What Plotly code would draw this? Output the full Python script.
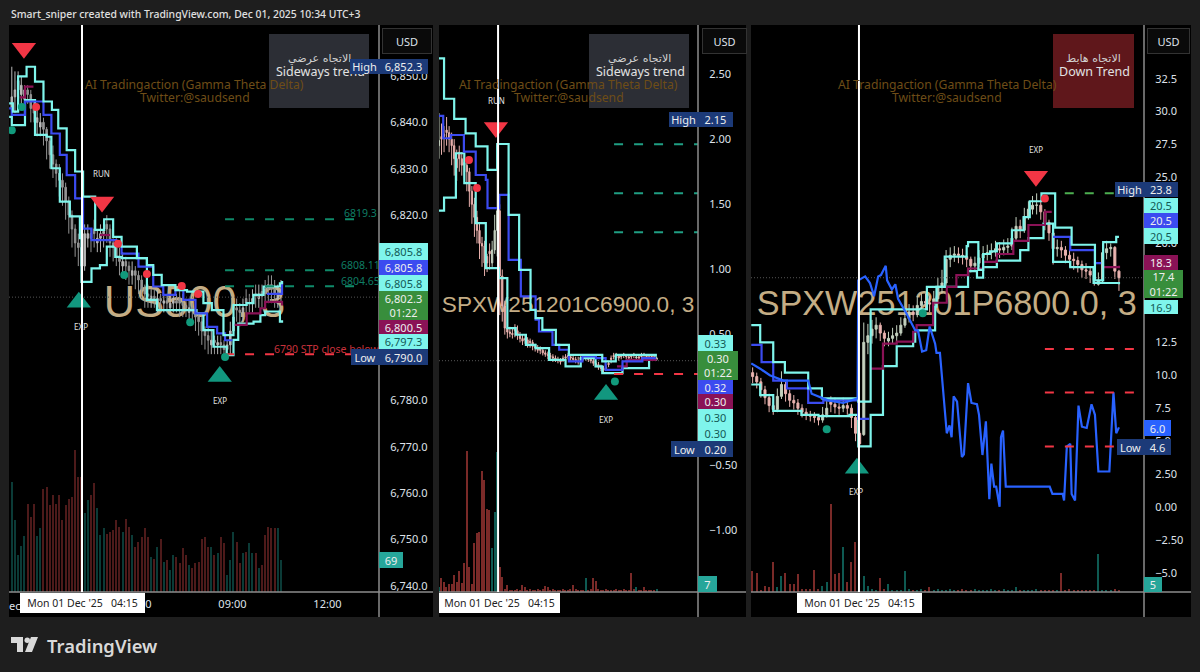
import plotly.graph_objects as go

W, H = 1200, 672
def X(p): return p / W
def Y(p): return 1 - p / H

# ---------- pane 1: US500 ----------
close1 = [6845.5,6847,6849,6848,6847,6846,6843,6842,6841,6840,6838.5,6836,6833,6831,6829,6827.5,6826,6823,6820,6817,6814,6813,6809,6816,6816,6815,6816,6815,6816,6816.5,6817,6814,6813,6811,6810,6810,6809,6808,6808,6807,6806,6804,6803,6802.5,6802.5,6802,6802,6801.5,6801.5,6801,6801,6801.5,6801,6801,6800.5,6800,6800,6799.5,6798,6797,6795,6794,6793,6793,6792.5,6792.5,6792,6791,6792,6795,6798,6799.5,6799,6800,6801,6801,6802,6802.5,6803,6802.5,6803,6804,6804,6803,6803,6804]
open1 = [6843,6845.5,6847,6846,6845,6847,6846,6843,6840,6839,6840,6838.5,6836,6833,6831,6829,6827.5,6826,6823,6820,6817,6814,6813,6809,6815,6816,6817,6814,6815,6816,6818,6817,6814,6813,6811,6809,6810,6809,6807,6808,6807,6806,6804,6803,6801.5,6802.5,6801,6802,6801,6801.5,6800,6801,6801.5,6802,6801,6800.5,6799,6800,6799.5,6798,6797,6795,6794,6792,6793,6792,6792.5,6792,6791,6792,6795,6800,6799.5,6799,6802,6801,6801,6803,6802,6803.5,6804,6805,6805,6804,6802,6803]
high1 = [6852,6851,6851,6850,6848,6848,6847,6845,6843,6842,6841,6839,6837,6835,6832,6831,6829,6827,6824,6821,6818,6816,6814,6818,6818,6817,6819,6817,6818,6819,6820,6818,6815,6815,6813,6812,6811,6810,6810,6809,6808,6807,6805,6805,6804,6804,6804,6803,6803,6803,6803,6803,6803,6804,6803,6802,6802,6801,6801,6799,6798,6796,6796,6795,6794,6794,6794,6793,6793,6797,6801,6802,6801,6802,6804,6803,6804,6805,6805,6805,6806,6807,6807,6806,6805,6806]
low1 = [6840,6842,6844,6844,6843,6844,6840,6840,6837,6837,6835,6832,6830,6828,6826,6824,6822,6819,6816,6813,6811,6809,6806,6808,6813,6812,6813,6812,6812,6813,6814,6811,6810,6809,6807,6807,6806,6805,6805,6804,6803,6802,6800,6800,6800,6800,6799,6799,6799,6799,6799,6799,6799,6798,6798,6798,6797,6797,6795,6794,6792,6791,6790,6790,6790,6790,6790,6790,6790,6790,6795,6797,6796,6797,6798,6799,6799,6800,6800,6800,6800,6801,6801,6800,6800,6801]
vol1 = [238,155,80,100,120,190,162,190,120,137,223,227,187,209,190,209,155,187,200,205,306,248,248,170,198,209,234,180,123,137,126,130,133,155,140,130,158,140,123,98,108,119,137,119,76,72,98,115,65,69,47,80,76,62,94,80,58,51,62,65,115,119,98,98,80,83,119,105,37,69,130,108,62,83,87,105,83,83,51,58,123,140,137,137,137,69]
up1_t = [117,124,134,150,166,182,198,210,226,242,257,280,297,314,330,359,378,390,406,432,454,485,501,523,542,567,580,599,630,634]
up1_p = [6844.1,6842.3,6849.9,6852.0,6848.8,6844.5,6842.7,6838.7,6834.0,6829.4,6824.0,6816.8,6819.1,6815.3,6813.2,6810.7,6809.2,6807.1,6804.9,6803.8,6803.5,6801.0,6799.5,6794.1,6800.6,6801.0,6802.8,6804.6,6805.3,6805.8]
lo1_t = [117,122,147,166,188,197,213,232,251,254,273,289,302,318,330,378,397,472,485,504,529,542,551,580,593,602,630,634]
lo1_p = [6841.2,6839.4,6844.8,6837.3,6836.9,6830.1,6822.9,6819.7,6815.0,6805.6,6808.5,6809.2,6813.2,6811.0,6810.7,6801.7,6799.5,6798.8,6795.2,6791.6,6789.8,6793.1,6796.6,6797.0,6798.4,6799.2,6797.0,6797.3]
mid1_t = [117,122,147,182,197,213,226,242,257,273,320,330,362,390,409,432,447,470,492,511,526,540,541,605,634]
mid1_p = [6843.0,6841.6,6844.5,6841.6,6837.6,6833.0,6828.6,6823.6,6817.1,6814.6,6813.5,6811.7,6808.9,6804.6,6802.8,6803.8,6801.7,6798.8,6795.9,6794.5,6793.0,6793.0,None,6803.0,6805.8]
mar1_t = [137,147,163,164,289,308,309,542,567,593,602,634]
mar1_p = [6845.4,6847.7,6847.7,None,6815.7,6815.7,None,6796.3,6798.8,6799.9,6801.3,6800.5]
sell1_t, sell1_p = [145,293], [6856.0,6822.8]
buy1_t, buy1_p = [249,516], [6801.2,6785.2]
gdot1_t, gdot1_p = [122,141,335,460,526], [6838.3,6843.3,6807.1,6796.9,6789.4]
rdot1_t, rdot1_p = [168,323,378,444,475], [6843.3,6813.8,6807.3,6804.7,6803.0]
lvl1_g = [6819.1,6808.1,6804.65]
lvl1_end = [772,734,772]
lvl1_r = 6790.0
last1 = 6802.3

# ---------- pane 2: call ----------
close2 = [1.99,2.00,2.02,2.05,2.00,1.95,1.85,1.78,1.85,1.80,1.80,1.75,1.60,1.50,1.40,1.30,1.20,1.18,1.05,1.05,1.12,1.15,1.30,1.45,0.95,0.72,0.55,0.52,0.51,0.50,0.53,0.50,0.47,0.45,0.46,0.43,0.44,0.41,0.40,0.38,0.38,0.36,0.35,0.34,0.33,0.32,0.31,0.30,0.29,0.31,0.32,0.33,0.32,0.31,0.30,0.29,0.31,0.32,0.33,0.31,0.30,0.28,0.27,0.25,0.24,0.23,0.24,0.27,0.31,0.33,0.34,0.32,0.33,0.34,0.33,0.32,0.33,0.34,0.33,0.32,0.33,0.34,0.33,0.32,0.33,0.32,0.32]
open2 = [1.95,2.02,2.04,2.07,2.05,2.00,1.95,1.85,1.90,1.85,1.82,1.80,1.75,1.60,1.50,1.40,1.30,1.20,1.18,1.10,1.14,1.05,1.15,1.30,1.45,0.95,0.72,0.55,0.52,0.51,0.55,0.53,0.50,0.47,0.47,0.46,0.45,0.44,0.41,0.40,0.39,0.38,0.36,0.35,0.34,0.33,0.32,0.31,0.30,0.32,0.33,0.34,0.33,0.32,0.31,0.30,0.32,0.33,0.32,0.33,0.31,0.30,0.28,0.27,0.25,0.24,0.25,0.28,0.32,0.34,0.35,0.34,0.34,0.35,0.34,0.33,0.34,0.35,0.32,0.33,0.34,0.35,0.34,0.33,0.34,0.33,0.31]
high2 = [2.20,2.12,2.10,2.17,2.10,2.05,2.00,1.92,1.95,1.90,1.88,1.85,1.78,1.64,1.55,1.45,1.35,1.25,1.22,1.12,1.20,1.22,1.42,1.96,1.50,1.00,0.76,0.60,0.56,0.55,0.58,0.57,0.52,0.50,0.50,0.48,0.47,0.46,0.43,0.42,0.41,0.40,0.38,0.37,0.36,0.35,0.34,0.33,0.32,0.34,0.35,0.36,0.35,0.34,0.33,0.33,0.34,0.35,0.35,0.34,0.33,0.32,0.30,0.29,0.27,0.26,0.27,0.30,0.34,0.36,0.36,0.35,0.35,0.36,0.35,0.35,0.35,0.36,0.35,0.35,0.36,0.36,0.35,0.35,0.35,0.34,0.33]
low2 = [1.85,1.88,1.90,1.95,1.90,1.80,1.72,1.68,1.75,1.72,1.70,1.60,1.48,1.35,1.25,1.20,1.08,1.02,0.95,0.98,1.00,1.02,1.12,1.10,0.65,0.60,0.50,0.47,0.48,0.47,0.48,0.46,0.44,0.42,0.43,0.40,0.40,0.38,0.37,0.36,0.35,0.34,0.33,0.31,0.30,0.29,0.29,0.28,0.27,0.29,0.30,0.31,0.30,0.29,0.28,0.27,0.29,0.30,0.30,0.29,0.28,0.26,0.25,0.23,0.22,0.21,0.22,0.25,0.28,0.31,0.32,0.30,0.31,0.32,0.31,0.30,0.31,0.32,0.31,0.30,0.31,0.32,0.31,0.30,0.31,0.30,0.30]
vol2 = [4,12,9,4,7,7,15,9,18,8,25,124,22,7,43,52,53,106,98,73,72,39,70,123,22,13,3,6,2,2,2,3,2,6,4,2,3,2,2,3,2,3,5,4,2,3,2,2,2,3,2,2,3,6,3,2,2,2,12,2,3,12,10,3,2,2,3,2,2,2,3,2,2,3,2,2,17,3,4,2,2,4,2,2,2,2,3]
up2_t = [114,127,151,178,202,230,253,280,305,332,344,360,392,423,486,502,534,629]
up2_p = [2.62,2.31,2.155,2.045,1.945,1.764,1.963,1.419,0.997,0.69,0.626,0.537,0.422,0.345,0.345,0.294,0.345,0.33]
lo2_t = [114,127,155,175,202,226,257,277,297,321,344,376,415,451,486,502,550,613,629]
lo2_p = [1.452,1.552,1.892,1.662,1.355,1.01,0.933,0.55,0.499,0.422,0.396,0.307,0.256,0.32,0.256,0.205,0.243,0.307,0.30]
mid2_t = [114,125,143,174,202,226,230,258,280,309,344,352,384,400,423,455,487,510,550,597,629]
mid2_p = [2.178,2.007,2.032,1.904,1.725,1.687,1.47,1.572,1.074,0.793,0.614,0.524,0.422,0.384,0.294,0.333,0.32,0.23,0.294,0.32,0.32]
mar2_t = [537,560,597,629]
mar2_p = [0.256,0.307,0.307,0.30]
sell2_t, sell2_p = [250], [2.09]
buy2_t, buy2_p = [511], [0.04]
gdot2_t, gdot2_p = [532], [0.14]
rdot2_t, rdot2_p = [186,205], [1.84,1.626]
lvl2_g = [1.96,1.585,1.286]
lvl2_r = 0.197
last2 = 0.30

# ---------- pane 3: put ----------
close3 = [9.9,9.5,8.9,8.3,7.7,7.4,8.4,9.3,8.6,8.1,7.9,7.5,7.2,7.0,6.9,6.8,6.6,7.0,7.5,7.8,7.6,7.5,7.7,7.5,6.8,5.6,4.8,12.5,13.0,13.5,13.8,13.2,12.8,12.8,13.0,13.2,13.8,14.3,14.8,14.6,15.3,15.6,15.5,15.4,15.8,16.7,17.0,18.8,19.1,19.2,19.1,19.0,18.8,18.3,18.5,18.9,19.2,19.3,19.4,19.6,19.5,19.7,19.8,20.4,21.3,21.0,22.0,22.6,22.9,22.9,22.4,21.6,20.8,19.6,19.7,19.5,19.1,18.8,18.7,18.4,18.0,17.9,17.6,17.2,17.2,19.3,19.6,19.7,17.9,17.4]
open3 = [10.2,9.9,9.5,8.9,8.3,7.7,7.4,8.4,9.3,8.6,8.1,7.9,7.5,7.2,7.0,6.9,6.8,6.6,7.0,8.0,7.8,7.6,7.5,7.7,7.5,6.8,5.6,5.5,12.5,13.0,13.5,13.8,13.2,12.6,12.8,13.0,13.2,13.8,14.3,14.8,14.6,15.3,15.6,15.5,15.4,15.8,16.7,17.0,18.8,19.1,19.2,19.1,19.0,18.8,18.3,18.5,18.9,19.2,19.3,19.4,19.6,19.5,19.7,19.8,20.4,21.3,21.0,22.0,22.6,22.9,22.9,22.4,21.6,20.8,19.6,19.7,19.5,19.1,18.8,18.7,18.4,18.0,17.9,17.6,16.9,17.2,19.3,19.6,19.7,17.9]
high3 = [10.6,10.2,9.8,9.2,8.6,8.0,9.0,10.3,9.5,8.9,8.5,8.2,7.8,7.5,7.3,7.2,7.0,7.6,8.1,8.4,8.3,8.1,8.3,8.1,7.8,7.0,5.8,14.0,13.9,14.2,14.4,14.0,13.4,13.3,13.6,13.8,14.4,14.9,15.4,15.3,16.0,16.2,16.2,16.0,16.4,17.4,18.0,19.5,19.7,19.8,19.7,19.6,19.4,19.0,19.0,19.5,19.8,19.9,20.0,20.2,20.1,20.3,20.4,21.2,22.0,21.8,22.7,23.2,23.6,23.8,23.2,22.6,21.8,20.4,20.3,20.2,19.8,19.5,19.3,19.0,18.7,18.5,18.2,17.8,17.8,20.0,20.2,20.0,19.8,18.0]
low3 = [9.4,9.0,8.3,7.8,7.2,7.0,7.2,8.2,8.0,7.6,7.4,7.0,6.8,6.6,6.5,6.4,6.2,6.4,6.8,7.2,7.1,7.0,7.2,7.0,6.0,5.0,4.6,5.4,11.6,12.4,12.8,12.6,12.2,12.2,12.4,12.6,13.0,13.6,14.0,14.1,14.4,14.9,14.9,14.8,15.2,15.4,16.2,16.8,18.2,18.6,18.5,18.4,18.2,17.8,17.9,18.2,18.6,18.7,18.8,19.0,18.9,19.1,19.2,19.5,20.2,20.4,20.8,21.8,22.2,22.2,21.8,21.0,20.2,18.4,19.0,18.9,18.5,18.2,18.0,17.8,17.4,17.3,17.0,16.8,16.8,17.0,18.8,19.0,17.3,16.4]
vol3 = [13,12,1,4,3,19,3,10,12,5,5,11,2,2,2,14,2,4,6,55,11,12,28,6,19,31,89,10,4,2,1,9,2,5,1,1,1,13,2,1,1,2,1,3,1,2,1,1,2,1,1,2,1,1,2,1,1,1,2,1,1,2,1,1,3,1,1,1,1,2,1,1,1,1,1,12,1,2,1,1,1,1,1,1,24,1,1,1,2,1]
up3_t = [98,111,130,147,181,201,254,272,354,380,412,414,429,436,446,456,478,495,504,521,541,565,599,611,630,634]
up3_p = [13.8,12.5,11.0,10.2,9.0,8.25,8.0,15.0,16.7,19.0,19.8,20.1,18.0,19.2,19.4,20.0,21.0,22.0,23.2,23.8,21.2,19.9,17.2,20.1,20.5,20.5]
lo3_t = [98,111,130,171,196,241,254,272,290,310,334,337,366,368,414,427,436,456,490,502,524,538,563,597,634]
lo3_p = [9.3,8.5,7.3,7.0,6.9,7.0,4.6,7.0,10.7,12.2,12.55,13.4,15.2,16.7,17.9,17.4,18.2,18.7,19.5,20.4,21.5,18.6,18.2,17.0,16.9]
mid3_t = [98,113,130,150,181,203,254,270,271,538,563,599,608]
mid3_p = [12.3,11.0,9.6,9.0,7.9,8.1,6.7,6.7,None,20.5,19.5,18.5,18.5]
mar3_t = [271,290,310,334,339,363,383,397,414,436,456,480,502,526,536,537,611,634]
mar3_p = [10.5,12.4,12.55,13.3,13.8,15.5,16.7,17.6,18.1,18.6,19.2,20.2,21.4,22.4,22.4,None,18.2,18.3]
osc3_t = [98,111,125,145,181,186,210,232,253,254,264,271,277,283,287,294,296,303,308,312,324,329,337,341,347,353,358,366,368,373,378,383,387,390,393,398,405,408,414,419,427,430,435,440,445,448,452,455,460,462,465,469,533,537,552,554,558,563,565,570,575,580,587,594,599,604,620,626,630,634]
osc3_p = [10.9,10.5,10.0,9.6,9.6,8.6,8.1,7.9,8.25,17.2,17.5,17.0,16.0,17.5,17.6,18.3,17.2,16.5,16.9,15.8,14.7,14.2,13.4,13.4,11.8,11.9,13.7,12.4,11.7,11.7,8.4,5.6,6.2,5.3,8.4,8.0,3.8,4.0,9.4,7.9,7.8,7.0,3.95,6.5,0.6,3.3,1.55,1.55,0.03,5.3,5.8,1.55,1.55,1.0,1.0,0.5,4.6,4.8,1.0,0.5,7.7,6.1,6.0,7.8,7.0,2.7,2.7,8.7,5.6,6.05]
sell3_t, sell3_p = [513], [25.1]
buy3_t, buy3_p = [252], [2.95]
gdot3_t, gdot3_p = [208,348], [5.9,14.7]
rdot3_t, rdot3_p = [526], [23.4]
lvl3_g = 23.8
lvl3_r = [12.0,8.7,4.6]
last3 = 17.4

CROSS_T = 255
CYAN, BLUE, MAROON, OSC = "#7ff5ec", "#3b4bf0", "#8a1256", "#2962ff"
RED, TEAL, GDOT = "#f23645", "#12977f", "#119a7c"
TXT = "#dfe2ea"
FONT = "Noto Sans"

fig = go.Figure()
panes = [
    dict(x=(9, 379), right=433, tr=(116.7, 817.7), yr=(6738.7, 6861), vr=(0, 1222), axis=("x", "y", "y2")),
    dict(x=(439, 698), right=746, tr=(115, 729), yr=(-1.475, 2.876), vr=(0, 497), axis=("x2", "y3", "y4")),
    dict(x=(751, 1144), right=1191, tr=(97.6, 670.5), yr=(-6.44, 36.57), vr=(0, 354), axis=("x3", "y5", "y6")),
]

def add_pane(i, o, h, l, c, t0, vol, band_sets, sell, buy, gd, rd, levels, last, sym, sym_xy, sym_size, up_col, dn_col, vup, vdn, vwidth):
    xa, yv, yp = panes[i]["axis"]
    n = min(len(o), len(h), len(l), len(c), len(vol))
    times = [t0 + 6 * k for k in range(n)]
    vcol = [vup if c[k] >= o[k] else vdn for k in range(n)]
    fig.add_trace(go.Bar(x=times, y=vol[:n], width=vwidth, marker=dict(color=vcol, line_width=0), xaxis=xa, yaxis=yv, hoverinfo="skip", showlegend=False))
    fig.add_trace(go.Scatter(x=[sym_xy[0]], y=[sym_xy[1]], mode="text", text=[sym], textposition="middle center",
                             textfont=dict(family="Liberation Sans", size=sym_size, color="#c4ad85"), xaxis=xa, yaxis=yv, hoverinfo="skip", showlegend=False, cliponaxis=False))
    tr = panes[i]["tr"]
    fig.add_trace(go.Scatter(x=list(tr), y=[last, last], mode="lines", line=dict(color="#555555", width=1, dash="1px,2px"), xaxis=xa, yaxis=yp, hoverinfo="skip", showlegend=False))
    fig.add_trace(go.Candlestick(x=times, open=o[:n], high=h[:n], low=l[:n], close=c[:n], whiskerwidth=0,
                                 increasing=dict(line=dict(color=up_col, width=1), fillcolor=up_col),
                                 decreasing=dict(line=dict(color=dn_col, width=1), fillcolor=dn_col),
                                 xaxis=xa, yaxis=yp, hoverinfo="skip", showlegend=False))
    for tt, pp, col, wd, shape in band_sets:
        fig.add_trace(go.Scatter(x=tt, y=pp, mode="lines", line=dict(color=col, width=wd, shape=shape), xaxis=xa, yaxis=yp, hoverinfo="skip", showlegend=False, connectgaps=False))
    for tt, pp, col in levels:
        fig.add_trace(go.Scatter(x=tt, y=pp, mode="lines", line=dict(color=col, width=2, dash="9px,11px"), xaxis=xa, yaxis=yp, hoverinfo="skip", showlegend=False))
    for (tt, pp), sym_m, col, sz in [(sell, "triangle-down", RED, 21), (buy, "triangle-up", TEAL, 21), (gd, "circle", GDOT, 8), (rd, "circle", RED, 8)]:
        fig.add_trace(go.Scatter(x=tt, y=pp, mode="markers", marker=dict(symbol=sym_m, size=sz, color=col, line_width=0), xaxis=xa, yaxis=yp, hoverinfo="skip", showlegend=False))

G1, G2 = "#0f8a6a", "#1f9e83"
add_pane(0, open1, high1, low1, close1, 122, vol1,
         [(lo1_t, lo1_p, CYAN, 2.2, "hv"), (mar1_t, mar1_p, MAROON, 2.2, "hv"), (mid1_t, mid1_p, BLUE, 2.2, "hv"), (up1_t, up1_p, CYAN, 2.2, "hv")],
         (sell1_t, sell1_p), (buy1_t, buy1_p), (gdot1_t, gdot1_p), (rdot1_t, rdot1_p),
         [([526, e], [v, v], G1) for v, e in zip(lvl1_g, lvl1_end)] + [([526, 817], [lvl1_r, lvl1_r], RED)],
         last1, "US500, 3", (468, 616), 43.5, "#b8b8b8", "#949494", "#0b3b37", "#4d1a1a", 2)
add_pane(1, open2, high2, low2, close2, 115, vol2,
         [(lo2_t, lo2_p, CYAN, 2.2, "hv"), (mar2_t, mar2_p, MAROON, 2.2, "hv"), (mid2_t, mid2_p, BLUE, 2.2, "hv"), (up2_t, up2_p, CYAN, 2.2, "hv")],
         (sell2_t, sell2_p), (buy2_t, buy2_p), (gdot2_t, gdot2_p), (rdot2_t, rdot2_p),
         [([530, 729], [v, v], G2) for v in lvl2_g] + [([530, 729], [lvl2_r, lvl2_r], RED)],
         last2, "SPXW251201C6900.0, 3", (421, 250), 22.6, "#c3d0be", "#e8b0ac", "#0e5a52", "#7a2a28", 3)
add_pane(2, open3, high3, low3, close3, 100, vol3,
         [(lo3_t, lo3_p, CYAN, 2.2, "hv"), (mar3_t, mar3_p, MAROON, 2.2, "hv"), (mid3_t, mid3_p, BLUE, 2.2, "hv"), (up3_t, up3_p, CYAN, 2.2, "hv"), (osc3_t, osc3_p, OSC, 2.2, "linear")],
         (sell3_t, sell3_p), (buy3_t, buy3_p), (gdot3_t, gdot3_p), (rdot3_t, rdot3_p),
         [([555, 628], [lvl3_g, lvl3_g], "#4caf50")] + [([526, 657], [v, v], RED) for v in lvl3_r],
         last3, "SPXW251201P6800.0, 3", (383, 178), 34.2, "#c3d0be", "#eab4b0", "#0e5a52", "#7a2a28", 2)

# ---------- axes ----------
y_dom = [Y(592), Y(25)]
tick_cfg = [
    ([6850,6840,6830,6820,6810,6800,6790,6780,6770,6760,6750,6740], ["6,850.0","6,840.0","6,830.0","6,820.0","6,810.0","6,800.0","6,790.0","6,780.0","6,770.0","6,760.0","6,750.0","6,740.0"]),
    ([2.5,2,1.5,1,0.5,0,-0.5,-1], ["2.50","2.00","1.50","1.00","0.50","0.00","\u22120.50","\u22121.00"]),
    ([32.5,30,27.5,25,22.5,20,17.5,15,12.5,10,7.5,5,2.5,0,-2.5,-5], ["32.5","30.0","27.5","25.0","22.5","20.0","17.5","15.0","12.5","10.0","7.5","5.0","2.50","0.00","\u22122.50","\u22125.0"]),
]
layout_axes = {}
for i, p in enumerate(panes):
    xn = "xaxis" if i == 0 else f"xaxis{i+1}"
    yv = p["axis"][1]; yp = p["axis"][2]
    yvn = "yaxis" if yv == "y" else "yaxis" + yv[1:]
    ypn = "yaxis" + yp[1:]
    xticks = dict(tickvals=[360, 540, 720], ticktext=["06:00", "09:00", "12:00"]) if i == 0 else dict(tickvals=[])
    layout_axes[xn] = dict(domain=[X(p["x"][0]), X(p["x"][1])], range=list(p["tr"]), anchor=yv, showgrid=False, zeroline=False, showline=False,
                           ticks="outside", ticklen=2, tickcolor="rgba(0,0,0,0)", tickfont=dict(family=FONT, size=11, color=TXT),
                           rangeslider=dict(visible=False), **xticks)
    layout_axes[yvn] = dict(domain=y_dom, range=list(p["vr"]), anchor=p["axis"][0], visible=False, showgrid=False, zeroline=False)
    layout_axes[ypn] = dict(domain=y_dom, range=list(p["yr"]), anchor=p["axis"][0], overlaying=yv, side="right", showgrid=False, zeroline=False, showline=False,
                            tickvals=tick_cfg[i][0], ticktext=tick_cfg[i][1], ticks="outside", ticklen=8, tickcolor="rgba(0,0,0,0)",
                            tickfont=dict(family=FONT, size=11, color=TXT))

# ---------- shapes ----------
shapes = []
def rect(x0, y0, x1, y1, fill, layer="below"):
    shapes.append(dict(type="rect", xref="paper", yref="paper", x0=X(x0), x1=X(x1), y0=Y(y1), y1=Y(y0), fillcolor=fill, line_width=0, layer=layer))
def line(x0, y0, x1, y1, col="#8c8c8c", w=1.5, layer="above"):
    shapes.append(dict(type="line", xref="paper", yref="paper", x0=X(x0), x1=X(x1), y0=Y(y0), y1=Y(y1), line=dict(color=col, width=w), layer=layer))
def poly(pts, fill):
    d = "M" + " L".join(f"{X(a):.5f},{Y(b):.5f}" for a, b in pts) + " Z"
    shapes.append(dict(type="path", xref="paper", yref="paper", path=d, fillcolor=fill, line_width=0, layer="above"))

for p in panes:
    rect(p["x"][0], 25, p["right"], 617, "#000000")
for p, xa in zip(panes, ["x", "x2", "x3"]):
    line(p["x"][1], 25, p["x"][1], 617)
    line(p["x"][0], 592, p["right"], 592)
    shapes.append(dict(type="line", xref=xa, yref="paper", x0=CROSS_T, x1=CROSS_T, y0=Y(592), y1=Y(25), line=dict(color="#ffffff", width=2), layer="above"))
rect(269, 34, 369, 108, "rgba(52,54,62,0.85)", "above")
rect(589, 34, 689, 108, "rgba(52,54,62,0.85)", "above")
rect(1053, 34, 1134, 108, "rgba(100,24,28,0.95)", "above")
# logo
poly([(11,637),(23,637),(23,652),(17,652),(17,643),(11,643)], "#d9d9d9")
poly([(31,637),(38,637),(32,652),(25,652)], "#d9d9d9")
shapes.append(dict(type="circle", xref="paper", yref="paper", x0=X(24.5), x1=X(30), y0=Y(643), y1=Y(637.5), fillcolor="#d9d9d9", line_width=0, layer="above"))

# ---------- annotations ----------
ann = []
def txt(x, y, s, size=11, col=TXT, anchor="center", fam=FONT, weight=None):
    f = dict(family=fam, size=size, color=col)
    if weight: f["weight"] = weight
    ann.append(dict(xref="paper", yref="paper", x=X(x), y=Y(y), text=s, showarrow=False, xanchor=anchor, yanchor="middle", font=f))
def box(x0, y0, x1, y1, s, bg, fg, size=11, border=None):
    ann.append(dict(xref="paper", yref="paper", x=X(x0), y=Y(y0), xanchor="left", yanchor="top", width=x1 - x0, height=y1 - y0,
                    text=s, showarrow=False, align="center", valign="middle", bgcolor=bg, borderpad=0, borderwidth=1 if border else 0,
                    bordercolor=border or "rgba(0,0,0,0)", font=dict(family=FONT, size=size, color=fg)))

for cx in (194.5, 568.5, 947):
    txt(cx, 84, "AI Tradingaction (Gamma Theta Delta)", 12.2, "#6e4d17")
    txt(cx, 97, "Twitter:@saudsend", 12.2, "#6e4d17")
for cx, ar, en in [(319, "\u0627\u0644\u0627\u062a\u062c\u0627\u0647 \u0639\u0631\u0636\u064a", "Sideways trend"), (639, "\u0627\u0644\u0627\u062a\u062c\u0627\u0647 \u0639\u0631\u0636\u064a", "Sideways trend"), (1093.5, "\u0627\u0644\u0627\u062a\u062c\u0627\u0647 \u0647\u0627\u0628\u0637", "Down Trend")]:
    txt(cx, 58, ar, 11, "#d0d0d0", fam="DejaVu Sans")
    txt(cx + 1, 72, en, 12.5, "#e2e2e2")
for x, y, s in [(101, 174, "RUN"), (81, 326, "EXP"), (220, 400, "EXP"), (496, 100, "RUN"), (606, 419, "EXP"), (1036, 149, "EXP"), (856, 491, "EXP")]:
    txt(x, y, s, 8, "#e0e0e0")
txt(360, 213, "6819.3", 10.5, "#0f7d65")
txt(360, 265, "6808.11", 10.5, "#0f7d65")
txt(360, 281, "6804.65", 10.5, "#0f7d65")
txt(272, 349, "6790 STP close below", 10.5, "#c8323c", anchor="left")
txt(14, 605, "ec", 11, TXT)

txt(9, 14, "Smart_sniper created with TradingView.com, Dec 01, 2025 10:34 UTC+3", 10.4, "#e0e0e0", anchor="left", weight=500)
txt(45, 645, "TradingView", 18.4, "#d9d9d9", anchor="left", weight=600)

NAVY, CY, CYT, BL, MA, GR, TL = "#1c3a78", "#7ff5ec", "#135a55", "#3b4bf0", "#8a1256", "#388e3c", "#26a69a"
WT = "#eeeeee"
for x0, x1 in [(382, 430), (702, 745), (1147, 1188)]:
    box(x0, 28, x1, 52, "USD", "#0a0a0a", TXT, 11, border="#333333")
box(350, 59, 379, 74, "High", NAVY, WT)
box(379, 59, 428, 74, "6,852.3", NAVY, WT)
box(379, 243, 428, 260, "6,805.8", CY, CYT)
box(379, 260, 428, 275, "6,805.8", BL, WT)
box(379, 275, 428, 291, "6,805.8", CY, CYT)
box(379, 291, 428, 320, "6,802.3<br>01:22", GR, WT)
box(379, 320, 428, 334, "6,800.5", MA, WT)
box(379, 334, 428, 349, "6,797.3", CY, CYT)
box(351, 349, 379, 365, "Low", NAVY, WT)
box(379, 349, 428, 365, "6,790.0", NAVY, WT)
box(379, 552, 403, 568, "69", TL, WT)
# pane 2
box(669, 112, 698, 127, "High", NAVY, WT)
box(698, 112, 733, 127, "2.15", NAVY, WT)
box(698, 335, 733, 351, "0.33", CY, CYT)
box(698, 351, 738, 380, "0.30<br>01:22", GR, WT)
box(698, 380, 733, 394, "0.32", BL, WT)
box(698, 394, 733, 409, "0.30", MA, WT)
box(698, 409, 733, 425, "0.30", CY, CYT)
box(698, 425, 733, 441, "0.30", CY, CYT)
box(671, 441, 698, 457, "Low", NAVY, WT)
box(698, 441, 733, 457, "0.20", NAVY, WT)
box(698, 576, 717, 592, "7", TL, WT)
# pane 3
box(1115, 182, 1144, 197, "High", NAVY, WT)
box(1144, 182, 1178, 197, "23.8", NAVY, WT)
box(1144, 198, 1178, 213, "20.5", CY, CYT)
box(1144, 213, 1178, 228, "20.5", BL, WT)
box(1144, 228, 1178, 244, "20.5", CY, CYT)
box(1144, 255, 1178, 270, "18.3", MA, WT)
box(1144, 270, 1183, 298, "17.4<br>01:22", GR, WT)
box(1144, 300, 1178, 314, "16.9", CY, CYT)
box(1144, 420, 1171, 436, "6.0", OSC, WT)
box(1117, 439, 1144, 455, "Low", NAVY, WT)
box(1144, 439, 1171, 455, "4.6", NAVY, WT)
box(1144, 577, 1162, 592, "5", TL, WT)
# crosshair time labels
for x0, x1 in [(20, 145), (439, 560), (797, 922)]:
    box(x0, 593, x1, 613, "Mon 01 Dec '25&nbsp;&nbsp;&nbsp;04:15", "#ffffff", "#222222", 10.5)

fig.update_layout(width=W, height=H, margin=dict(l=0, r=0, t=0, b=0), paper_bgcolor="#1e1e1e", plot_bgcolor="rgba(0,0,0,0)",
                  showlegend=False, shapes=shapes, annotations=ann, bargap=0, **layout_axes)
fig.write_html("out.html", config=dict(displayModeBar=False), post_script="document.body.style.margin='0';document.body.style.background='#1e1e1e';")
